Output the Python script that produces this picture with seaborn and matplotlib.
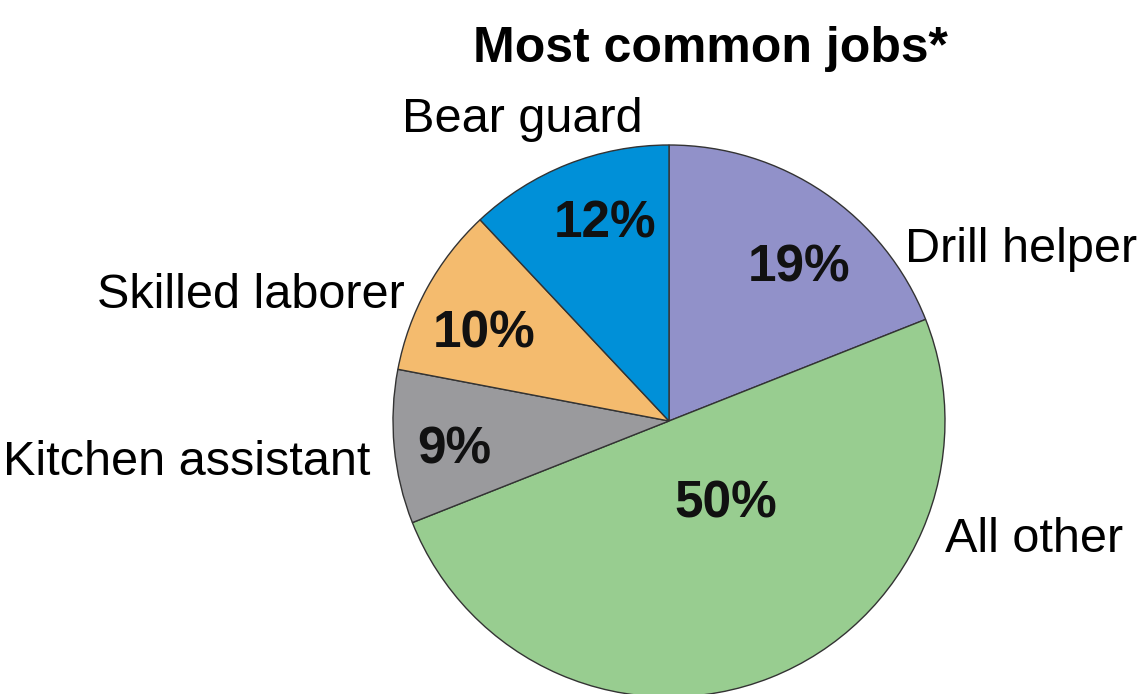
import matplotlib
matplotlib.use("Agg")
import matplotlib.pyplot as plt
import seaborn as sns

sns.set_theme(style="white")
plt.rcParams['font.family'] = ['Liberation Sans', 'DejaVu Sans']

# 데이터 (12시 방향부터 시계방향)
jobs = ['Drill helper', 'All other', 'Kitchen assistant', 'Skilled laborer', 'Bear guard']
shares = [19, 50, 9, 10, 12]
colors = ['#9191c9', '#98cd90', '#9a9a9d', '#f4bb6e', '#0090d8']

W, H = 1145, 694
CX, CY, R = 669, 421, 276  # 원 중심/반지름 (px)


def px(x, y):
    # 그림 픽셀 좌표(좌상단 기준) -> 파이 데이터 좌표
    return (x - CX) / R, (CY - y) / R


fig = plt.figure(figsize=(W / 100, H / 100), dpi=100)
ax = fig.add_axes([(CX - R) / W, (H - CY - R) / H, 2 * R / W, 2 * R / H])
ax.pie(shares, colors=colors, startangle=90, counterclock=False, radius=1,
       wedgeprops=dict(edgecolor='#333333', linewidth=1))
ax.set_xlim(-1, 1)
ax.set_ylim(-1, 1)
ax.set_aspect('equal')
ax.axis('off')

# 이름 라벨: (x, baseline y, 정렬)
label_pos = [(905, 262, 'left'), (945, 552, 'left'), (370, 475, 'right'),
             (405, 308, 'right'), (522, 132, 'center')]
# 퍼센트 라벨: (중심 x, baseline y)
pct_pos = [(799, 282), (726, 517), (454, 463), (484, 348), (605, 238)]

for name, (x, y, ha) in zip(jobs, label_pos):
    ax.text(*px(x, y), name, ha=ha, va='baseline', fontsize=35, color='black', clip_on=False)
for s, (x, y) in zip(shares, pct_pos):
    ax.text(*px(x, y), f"{s}%", ha='center', va='baseline', fontsize=37, fontweight='bold',
            color='#111111', clip_on=False)

fig.text(710 / W, 1 - 62 / H, 'Most common jobs*', ha='center', va='baseline',
         fontsize=36, fontweight='bold', color='black')

fig.savefig('out.png', dpi=100)
plt.close(fig)
